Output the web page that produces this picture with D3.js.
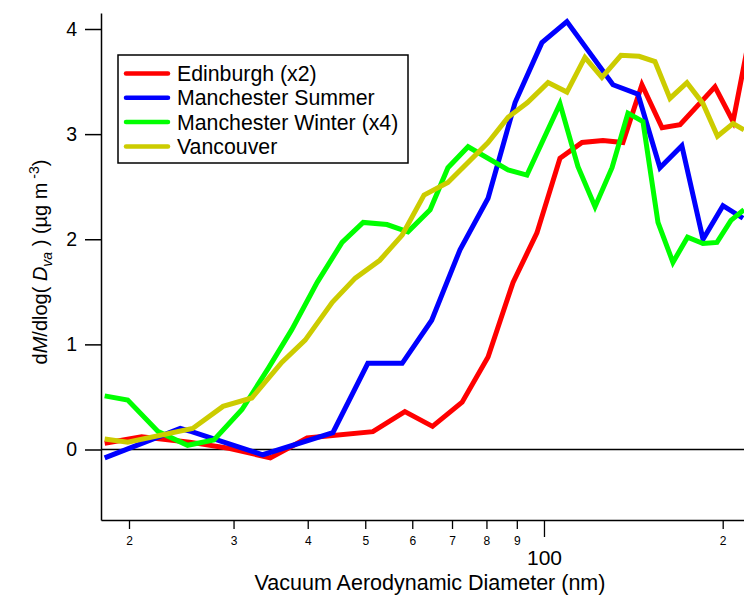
<!DOCTYPE html>
<html lang="en">
<head>
<meta charset="UTF-8" />
<title>Mass size distributions</title>
<style>
  body { margin: 0; background: #fff; }
  text { font-family: "Liberation Sans", Arial, sans-serif; fill: #000; }
</style>
</head>
<body>
<div id="chart"></div>
<script src="https://cdn.jsdelivr.net/npm/d3@7/dist/d3.min.js"></script>
<script>
// diameters in nm, values in ug m-3
const seriesNames = ["Edinburgh (x2)", "Manchester Summer", "Manchester Winter (x4)", "Vancouver"];
const seriesColors = ["#ff0000", "#0000ff", "#00ff00", "#cccc00"];

const edinburghDiam = [18.2, 21.0, 25.3, 29.6, 34.6, 39.9, 51.5, 58.3, 64.9, 72.8, 80.5, 88.7, 97.3, 106.4, 115.9, 125.7, 135.8, 146.2, 158.1, 169.5, 194.1, 208.2, 224];
const edinburghVals = [0.06, 0.12, 0.07, 0.01, -0.08, 0.11, 0.17, 0.36, 0.22, 0.45, 0.88, 1.59, 2.06, 2.77, 2.92, 2.94, 2.92, 3.47, 3.06, 3.09, 3.45, 3.12, 4.04];

const summerDiam = [18.2, 24.4, 25.5, 33.6, 44.1, 50.5, 57.7, 64.7, 72.2, 80.5, 89.4, 99.2, 109.3, 130.7, 144.0, 156.8, 170.7, 185.3, 200.2, 216.4];
const summerVals = [-0.08, 0.20, 0.17, -0.05, 0.16, 0.82, 0.82, 1.23, 1.90, 2.39, 3.30, 3.87, 4.07, 3.47, 3.38, 2.68, 2.89, 2.00, 2.32, 2.20];

const winterDiam = [18.2, 19.9, 22.4, 25.1, 27.8, 31.0, 34.3, 37.6, 41.5, 45.7, 49.6, 54.4, 59.0, 64.3, 68.9, 74.5, 87.0, 93.6, 106.4, 114.1, 121.9, 130.2, 138.5, 146.8, 155.6, 164.9, 174.5, 185.3, 195.6, 206.5, 217.2];
const winterVals = [0.51, 0.47, 0.17, 0.04, 0.09, 0.38, 0.77, 1.14, 1.59, 1.97, 2.16, 2.14, 2.07, 2.28, 2.68, 2.88, 2.66, 2.61, 3.29, 2.69, 2.31, 2.68, 3.20, 3.12, 2.16, 1.78, 2.02, 1.96, 1.97, 2.18, 2.28];

const vancouverDiam = [18.2, 19.9, 25.6, 28.8, 32.2, 36.2, 39.6, 44.0, 48.1, 52.9, 57.7, 62.8, 68.9, 80.5, 87.0, 93.8, 101.6, 109.3, 117.2, 125.2, 134.8, 144.6, 153.8, 163.0, 174.1, 185.3, 196.0, 208.2, 217.2];
const vancouverVals = [0.10, 0.07, 0.20, 0.41, 0.49, 0.83, 1.04, 1.40, 1.63, 1.80, 2.04, 2.42, 2.54, 2.92, 3.16, 3.30, 3.49, 3.40, 3.73, 3.54, 3.75, 3.74, 3.69, 3.34, 3.49, 3.29, 2.98, 3.10, 3.04];

const xTickValues = [20, 30, 40, 50, 60, 70, 80, 90, 100, 200];
const yTickValues = [0, 1, 2, 3, 4];

(() => {
  const width = 744, height = 596;
  const left = 101, right = 744, top = 13, bottom = 520;

  // log axis: 20 -> 129px, 200 -> 722.7px, cropped at the window edge
  const x = d3.scaleLog().domain([20, 200]).range([129, 722.7]);
  x.domain([x.invert(left), x.invert(right)]).range([left, right]);

  const y = d3.scaleLinear().domain([0, 4]).range([449.5, 29]);
  y.domain([y.invert(bottom), y.invert(top)]).range([bottom, top]);

  const svg = d3.select("#chart").append("svg")
    .attr("width", width)
    .attr("height", height);

  svg.append("clipPath").attr("id", "plotclip")
    .append("rect")
    .attr("x", left).attr("y", top)
    .attr("width", right - left).attr("height", bottom - top);

  // zero line
  svg.append("line")
    .attr("x1", left).attr("x2", right)
    .attr("y1", y(0)).attr("y2", y(0))
    .attr("stroke", "#000").attr("stroke-width", 1.3);

  const series = [
    [edinburghDiam, edinburghVals],
    [summerDiam, summerVals],
    [winterDiam, winterVals],
    [vancouverDiam, vancouverVals]
  ];

  const line = d3.line().x(d => x(d[0])).y(d => y(d[1]));

  const g = svg.append("g").attr("clip-path", "url(#plotclip)");
  series.forEach((s, i) => {
    g.append("path")
      .datum(d3.zip(s[0], s[1]))
      .attr("fill", "none")
      .attr("stroke", seriesColors[i])
      .attr("stroke-width", 5)
      .attr("stroke-linejoin", "miter")
      .attr("d", line);
  });

  // y axis
  const yAxis = svg.append("g")
    .attr("transform", `translate(${left},0)`)
    .call(d3.axisLeft(y).tickValues(yTickValues).tickSize(16).tickSizeOuter(0).tickPadding(8).tickFormat(d3.format("d")));
  yAxis.select(".domain").attr("stroke-width", 1.5);
  yAxis.selectAll(".tick line").attr("stroke-width", 1.5);
  yAxis.selectAll(".tick text").attr("font-size", 19.5);

  // x axis
  const xAxis = svg.append("g")
    .attr("transform", `translate(0,${bottom})`)
    .call(d3.axisBottom(x).tickValues(xTickValues).tickSize(9).tickSizeOuter(0).tickPadding(7.5)
      .tickFormat(d => d === 100 ? "100" : String(d >= 100 ? d / 100 : d / 10)));
  xAxis.select(".domain").attr("stroke-width", 1.5);
  xAxis.selectAll(".tick line").attr("stroke-width", 1.3);
  xAxis.selectAll(".tick text").attr("font-size", 12);
  xAxis.selectAll(".tick").filter(d => d === 100).each(function () {
    d3.select(this).select("line").attr("y2", 17);
    d3.select(this).select("text").attr("font-size", 21).attr("y", 30);
  });

  // axis titles
  svg.append("text")
    .attr("x", 430).attr("y", 590)
    .attr("text-anchor", "middle")
    .attr("font-size", 21.5)
    .text("Vacuum Aerodynamic Diameter (nm)");

  const yl = svg.append("text")
    .attr("transform", "translate(47,262) rotate(-90)")
    .attr("text-anchor", "middle")
    .attr("font-size", 20);
  yl.append("tspan").text("d");
  yl.append("tspan").attr("font-style", "italic").text("M");
  yl.append("tspan").text("/dlog( ");
  yl.append("tspan").attr("font-style", "italic").text("D");
  yl.append("tspan").attr("font-style", "italic").attr("font-size", 14).attr("dy", 5).text("va");
  yl.append("tspan").attr("dy", -5).text(" ) (µg m");
  yl.append("tspan").attr("font-size", 14).attr("dy", -8).text(" -3");
  yl.append("tspan").attr("dy", 8).text(")");

  // legend
  const legend = svg.append("g");
  legend.append("rect")
    .attr("x", 118).attr("y", 55)
    .attr("width", 290).attr("height", 108)
    .attr("fill", "#fff")
    .attr("stroke", "#000").attr("stroke-width", 1.5);
  seriesNames.forEach((name, i) => {
    const base = 81 + i * 24.3;
    legend.append("line")
      .attr("x1", 126).attr("x2", 168)
      .attr("y1", base - 7.5).attr("y2", base - 7.5)
      .attr("stroke", seriesColors[i])
      .attr("stroke-width", 4.5)
      .attr("stroke-linecap", "round");
    legend.append("text")
      .attr("x", 177).attr("y", base)
      .attr("font-size", 21.3)
      .text(name);
  });
})();
</script>
</body>
</html>
